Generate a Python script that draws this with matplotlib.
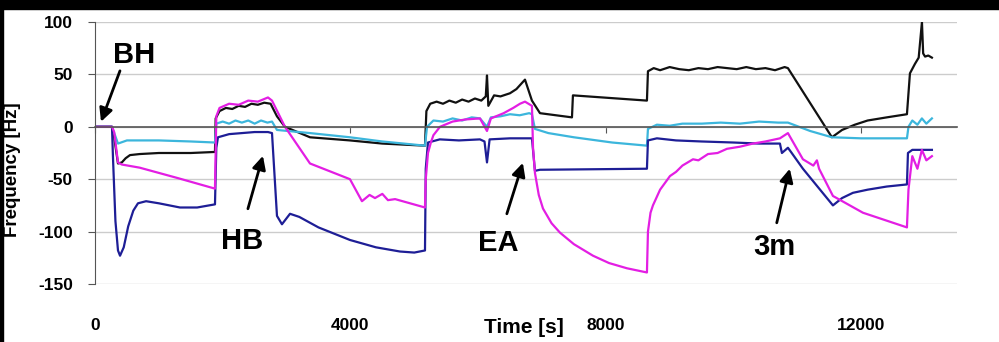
import matplotlib
matplotlib.use('Agg')
import matplotlib.pyplot as plt
from matplotlib.patches import Rectangle

# //--------------------------< data (time [s], frequency [Hz]) >--------------------------\\

black_pts = [(0, 0), (266, 0), (300, -10), (360, -35), (420, -34), (480, -30), (548, -27), (700, -26),
             (1000, -25), (1500, -25), (1879, -24), (1890, 8), (1950, 15), (2050, 18), (2150, 17), (2250, 20),
             (2350, 19), (2450, 22), (2550, 21), (2650, 23), (2750, 22), (2850, 10), (2975, 0), (3367, -10),
             (3993, -13), (4500, -16), (5168, -18), (5190, 15), (5250, 22), (5350, 24), (5450, 22), (5550, 25),
             (5650, 23), (5750, 26), (5850, 24), (5950, 27), (6050, 25), (6120, 29), (6139, 49), (6160, 20),
             (6250, 30), (6350, 29), (6499, 32), (6600, 36), (6734, 45), (6843, 25), (6969, 13), (7470, 9),
             (7485, 30), (8644, 25), (8660, 53), (8750, 56), (8850, 54), (9000, 57), (9150, 55), (9300, 54),
             (9450, 56), (9600, 55), (9750, 57), (9900, 56), (10050, 55), (10200, 57), (10350, 55),
             (10500, 56), (10650, 54), (10800, 57), (10852, 56), (11541, -10), (11700, -3), (11900, 2),
             (12100, 6), (12400, 9), (12716, 12), (12763, 51), (12841, 60), (12900, 66), (12951, 100),
             (12970, 70), (13000, 67), (13050, 68), (13107, 66)]

cyan_pts = [(0, 0), (266, 0), (360, -16), (500, -13), (1000, -13), (1500, -14), (1879, -15), (1900, 3),
            (2000, 5), (2100, 3), (2200, 6), (2300, 4), (2400, 6), (2500, 3), (2600, 6), (2700, 4), (2772, 5),
            (2850, -3), (3367, -6), (3993, -10), (4500, -14), (5168, -18), (5200, 0), (5300, 6), (5450, 5),
            (5600, 8), (5750, 6), (5900, 9), (6029, 8), (6139, 0), (6200, 9), (6350, 10), (6500, 12),
            (6650, 11), (6800, 13), (6843, 12), (6890, -2), (7100, -6), (7500, -10), (8100, -15), (8644, -18),
            (8660, -2), (8800, 2), (9000, 1), (9200, 3), (9500, 3), (9800, 4), (10100, 3), (10400, 5),
            (10700, 4), (10852, 4), (11200, -4), (11541, -10), (12000, -11), (12716, -11), (12740, 0),
            (12800, 6), (12880, 2), (12950, 8), (13020, 3), (13107, 8)]

magenta_pts = [(0, 0), (266, 0), (300, -5), (360, -34), (420, -36), (700, -39), (1300, -49), (1879, -59),
               (1900, 10), (1950, 18), (2100, 22), (2250, 21), (2400, 25), (2550, 24), (2709, 28), (2772, 25),
               (2975, 0), (3367, -35), (3993, -50), (4181, -71), (4300, -65), (4385, -68), (4500, -64),
               (4588, -70), (4700, -69), (5168, -77), (5180, -50), (5215, -25), (5260, -15), (5300, -8),
               (5403, 0), (5600, 5), (5800, 7), (6029, 8), (6139, -4), (6200, 8), (6400, 13), (6550, 18),
               (6656, 22), (6734, 24), (6843, 20), (6860, -20), (6890, -44), (6950, -65), (7016, -78),
               (7150, -92), (7282, -101), (7500, -112), (7799, -123), (8050, -130), (8331, -135), (8644, -139),
               (8660, -100), (8700, -82), (8738, -75), (8850, -60), (9005, -47), (9100, -43), (9200, -37),
               (9365, -31), (9450, -32), (9600, -26), (9750, -25), (9897, -21), (10100, -19), (10304, -16),
               (10500, -14), (10727, -11), (10852, -6), (11087, -31), (11250, -37), (11306, -32), (11340, -40),
               (11557, -66), (12027, -82), (12716, -96), (12740, -60), (12800, -28), (12880, -40), (12950, -22),
               (13020, -32), (13107, -28)]

blue_pts = [(0, 0), (266, 0), (282, -30), (320, -90), (360, -118), (392, -123), (450, -115), (520, -95),
            (600, -80), (673, -73), (800, -71), (1000, -73), (1331, -77), (1600, -77), (1879, -74), (1900, -20),
            (1926, -10), (2100, -7), (2300, -6), (2500, -5), (2709, -5), (2772, -6), (2850, -85), (2928, -93),
            (3054, -83), (3200, -86), (3500, -96), (3993, -108), (4400, -115), (4776, -119), (5000, -120),
            (5168, -118), (5180, -40), (5215, -15), (5400, -12), (5700, -13), (6029, -12), (6100, -14),
            (6139, -34), (6180, -12), (6500, -11), (6843, -11), (6890, -42), (6969, -41), (8644, -40),
            (8660, -13), (8800, -11), (9100, -13), (9500, -14), (10000, -15), (10400, -16), (10727, -16),
            (10758, -25), (10852, -20), (10900, -24), (11087, -40), (11557, -75), (11700, -68), (11870, -63),
            (12100, -60), (12400, -57), (12716, -55), (12732, -25), (12800, -22), (13107, -22)]

yticks = [100, 50, 0, -50, -100, -150]
xticks = [0, 4000, 8000, 12000]

# label, text position, arrow tail, arrow head
notes = [('BH', (611, 68.7), (391, 53.4), (94, 4.8)),
         ('HB', (2301, -108.8), (2395, -78.2), (2630, -27.7)),
         ('EA', (6309, -110.7), (6450, -83.0), (6701, -34.4)),
         ('3m', (10646, -114.5), (10677, -91.6), (10881, -40.0))]


# //--------------------------< plot >--------------------------\\

plt.rcParams['font.family'] = ['Liberation Sans', 'DejaVu Sans']
plt.rcParams['font.weight'] = 'bold'
plt.rcParams['axes.unicode_minus'] = False

fig = plt.figure(figsize=(9.99, 3.42), dpi=100)
ax = fig.add_axes([95 / 999, 58 / 342, 862 / 999, 262 / 342])

series = [(black_pts, '#111111'), (cyan_pts, '#3cb6dc'), (blue_pts, '#1e1e96'), (magenta_pts, '#e31ee3')]
for pts, col in series:
    t, v = zip(*pts)
    ax.plot(t, v, color=col, lw=1.6, solid_joinstyle='round')

ax.set_xlim(0, 13500)
ax.set_ylim(-150, 100)
ax.set_yticks(yticks)
ax.set_xticks(xticks)
ax.grid(axis='y', color='#cccccc', lw=1)
ax.set_axisbelow(True)

for s in ['top', 'right']:
    ax.spines[s].set_visible(False)
ax.spines['left'].set_color('#555555')
ax.spines['bottom'].set_position(('data', 0))
ax.spines['bottom'].set_color('#555555')
ax.spines['bottom'].set_linewidth(1.2)

ax.tick_params(axis='y', length=5, color='#555555', pad=11, labelsize=12.5)
ax.tick_params(axis='x', length=4, color='#555555', pad=134, labelsize=12.5)

ax.set_ylabel('Frequency [Hz]', fontsize=13.5, fontweight='bold')
ax.yaxis.set_label_coords(-0.086, 0.435)
ax.set_xlabel('Time [s]', fontsize=15, fontweight='bold', va='center')
ax.xaxis.set_label_coords(0.497, -0.165)

for label, txt, tail, head in notes:
    ax.text(txt[0], txt[1], label, fontsize=21, fontweight='bold', ha='center', va='center')
    ax.annotate('', xy=head, xytext=tail,
                arrowprops=dict(arrowstyle='-|>', color='black', lw=2, mutation_scale=20,
                                shrinkA=0, shrinkB=0))

# black frame edges of the original screenshot
fig.patches.append(Rectangle((0, 1 - 9 / 342), 1, 9 / 342, transform=fig.transFigure, color='black', zorder=10))
fig.patches.append(Rectangle((0, 0), 3 / 999, 1, transform=fig.transFigure, color='black', zorder=10))

fig.savefig('out.png', dpi=100)
